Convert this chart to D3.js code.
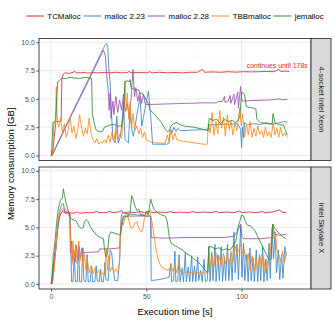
<!DOCTYPE html>
<html>
<head>
<meta charset="utf-8">
<script src="https://cdn.jsdelivr.net/npm/d3@7"></script>
<style>
  body { margin: 0; background: #fff; }
  svg { display: block; font-family: "Liberation Sans", Arial, sans-serif; }
</style>
</head>
<body>
<div id="chart"></div>
<script>
// Data (time in s, memory in GB)

const seriesNames = ["TCMalloc", "malloc 2.23", "malloc 2.28", "TBBmalloc", "jemalloc"];
const seriesColors = ["#E6262B", "#3A85C5", "#9C51AE", "#FF8A1A", "#2F8A2F"];
const panelNames = ["4-socket Intel Xeon", "Intel Skylake X"];
const xTicks = [0, 50, 100];
const yTicks = [0, 2.5, 5, 7.5, 10];
const noteText = "continues until 178s";
const notePos = [118.7, 7.95];

const xeonTCMalloc = [[0,0],[1,0.5],[2.5,2.9],[3,3.0],[5.3,3.0],[5.7,6.8],[6.5,7.2],[7.5,7.3],[9,7.25],[11,7.3],[12.5,7.45],[13.2,7.3],[16,7.3],[18,7.35],[19,7.28],[22,7.32],[25,7.3],[28,7.33],[31,7.3],[34,7.35],[37,7.3],[40,7.32],[41,7.42],[42,7.3],[46,7.33],[50,7.3],[52,7.4],[53,7.3],[57,7.35],[61,7.3],[65,7.33],[69,7.3],[73,7.35],[77,7.35],[79.5,7.6],[80.5,7.35],[85,7.38],[89,7.35],[93,7.4],[97,7.36],[101,7.4],[105,7.38],[109,7.4],[113,7.42],[117,7.4],[119.5,7.6],[120.5,7.42],[123,7.45],[125,7.42]];
const xeonMalloc223 = [[0.5,0],[10,3.4],[20,6.85],[27,9.3],[28.5,9.8],[29,9.9],[29.8,9.6],[30.2,8.0],[31,6.5],[31.8,3.5],[32.5,1.4],[33.6,1.1],[34.5,3.5],[35.3,1.1],[36.2,1.6],[37.1,2.6],[38,4.8],[38.8,1.4],[40.6,1.1],[41.4,3.8],[42.5,2.2],[43.2,1.7],[45,3.5],[46.7,5.2],[47.6,2.6],[49.3,4.1],[51.1,5.7],[52.3,3.5],[53.3,1.0],[60.7,1.0],[62,1.1],[62.5,2.3],[63.5,2.0],[64.5,2.5],[65.5,2.1],[66.5,2.4],[68,2.2],[75,2.25],[82,2.3],[83,2.7],[90,2.75],[98,2.8],[99.5,2.3],[100,0.7],[100.4,2.5],[101,1.6],[101.5,2.9],[103,2.7],[106,2.8],[110,2.75],[113,2.9],[116,2.75],[120,2.9],[122,3.0],[124,2.95]];
const xeonMalloc228 = [[0.5,0],[10,3.3],[20,6.7],[27.5,9.3],[28.5,8.8],[29.5,6.5],[30,5.8],[30.5,4.0],[31,5.5],[31.5,3.3],[32.5,4.8],[33,3.6],[34,5.2],[35,3.8],[36,4.9],[37,4.0],[38,5.4],[39,3.9],[40,4.6],[41,3.5],[42,5.0],[43,7.6],[43.8,5.2],[44.5,6.0],[45.5,4.8],[46.5,5.6],[47.5,4.6],[48.5,5.4],[49.5,4.5],[50.5,4.5],[60,4.55],[70,4.6],[80,4.65],[87,4.65],[87.5,4.75],[90,4.8],[91,5.2],[91.3,4.7],[93,4.8],[94,5.3],[94.3,4.6],[96,5.4],[96.3,4.5],[98,5.6],[98.3,4.2],[99.5,6.1],[100,5.0],[100.5,4.8],[105,4.85],[115,4.9],[120,5.0],[121,4.92],[124,4.95]];
const xeonTBB = [[0.8,0],[1.5,2.8],[2.3,3.2],[2.8,6.1],[3.3,3.0],[4,2.5],[5,3.3],[6,2.0],[7,2.8],[8,1.6],[9,2.2],[10,3.4],[11,2.0],[12,2.6],[13,1.5],[14,2.2],[15,3.6],[16,2.5],[17,1.7],[18,2.4],[19,1.9],[20,3.3],[21,2.0],[22,1.4],[23,1.1],[24,1.5],[25,1.0],[26,1.2],[27,1.1],[28,1.4],[29,1.1],[30,1.8],[31,1.2],[32,2.1],[33,1.3],[34,2.4],[35,1.4],[36,1.9],[37,1.5],[38,3.5],[38.8,6.6],[39.5,4.0],[40,5.5],[40.8,3.2],[41.5,4.6],[42.3,2.5],[43,3.7],[44,2.2],[45,2.6],[46,1.9],[47,2.4],[48,1.6],[49,2.1],[50,1.4],[52,1.2],[56,1.1],[60,1.1],[61,1.8],[62,1.2],[63,2.3],[64,1.4],[65,2.0],[66,1.4],[68,1.3],[72,1.2],[76,1.1],[80,1.0],[82,1.0],[82.5,2.8],[83.5,2.0],[84.5,3.8],[85.5,1.8],[86.5,3.0],[87.5,1.9],[88.5,4.0],[89.5,2.4],[90.5,3.4],[91.5,1.7],[92.5,3.6],[93.5,2.3],[94.5,3.0],[95.5,1.8],[96.5,2.9],[97.5,2.2],[99,4.2],[99.8,2.6],[100.5,3.7],[101.5,1.6],[102.5,2.8],[103.5,1.8],[104.5,3.0],[105.5,1.6],[106.5,2.4],[107.5,1.7],[108.5,2.6],[109.5,1.9],[110.5,2.2],[111.5,1.6],[112.5,2.5],[113.5,1.7],[114.5,2.1],[115.5,1.6],[116.5,2.9],[117.5,1.8],[118.5,2.4],[119.5,1.6],[120.5,2.5],[121.5,1.7],[122.5,2.0],[124,1.6]];
const xeonJemalloc = [[0.3,0],[1,2.9],[2.5,3.0],[3,5.0],[3.5,6.5],[4.5,6.6],[5.5,6.8],[8,6.8],[10,6.9],[12,6.85],[15,6.8],[18,6.9],[20,6.85],[21.3,6.8],[21.7,3.7],[22.5,3.0],[23.5,2.3],[25,2.1],[27,2.1],[28,2.5],[29.5,2.6],[31,2.7],[33,2.75],[35,2.6],[37,2.6],[38,3.5],[38.8,6.5],[40,6.6],[41,6.5],[41.5,6.7],[42,6.0],[44,5.8],[46,5.8],[46.5,5.5],[48,5.5],[49,5.2],[50,4.9],[51,4.6],[52,4.0],[54,3.7],[56,3.3],[58,2.9],[60,2.3],[61,2.1],[62,2.2],[63,2.6],[64,2.8],[66,2.9],[68,2.7],[70,2.6],[75,2.5],[80,2.3],[82.5,2.2],[83,3.3],[85,3.1],[87,3.2],[89,2.8],[91,3.2],[93,3.0],[95,3.1],[97,2.9],[99,3.3],[100,5.6],[101.5,5.4],[102.5,4.3],[106,4.2],[107.5,4.1],[108,3.2],[110,2.9],[114,2.8],[116,2.8],[116.5,3.7],[117.5,2.9],[120,2.7],[122,2.7],[123,2.2],[124,1.8]];

const skylakeTCMalloc = [[0,0],[1,1.0],[2,2.8],[3,4.2],[4,5.6],[5,6.2],[6,6.4],[7,6.3],[9,6.3],[12,6.25],[14,6.35],[15,6.25],[18,6.3],[22,6.3],[24,6.4],[25,6.3],[29,6.3],[31,6.42],[32,6.3],[35,6.35],[37,6.45],[38,6.3],[41,6.35],[44,6.3],[47,6.4],[49,6.3],[52,6.45],[53,6.3],[57,6.35],[60,6.3],[63,6.4],[64,6.3],[68,6.35],[72,6.3],[75,6.4],[76,6.3],[80,6.35],[84,6.3],[87,6.42],[88,6.3],[92,6.35],[96,6.3],[99,6.45],[100,6.3],[104,6.35],[108,6.3],[111,6.4],[112,6.3],[116,6.35],[119,6.5],[120,6.55],[121,6.35],[123.5,6.3]];
const skylakeMalloc223 = [[0.3,0],[1.5,2.0],[2.5,3.0],[3.5,5.0],[4.5,6.4],[5.5,7.0],[6.5,7.1],[7.2,6.3],[8,6.2],[9,6.3],[10,6.2],[10.8,0.2],[11.5,0.2],[12.2,2.5],[12.8,0.2],[13.8,0.2],[14.5,3.7],[15,0.2],[16,0.2],[16.7,3.2],[17.2,0.3],[18.3,0.2],[19,2.6],[19.5,0.2],[20.5,0.2],[21.3,1.6],[21.8,0.2],[23,0.2],[23.7,1.6],[24.2,0.3],[25.3,0.2],[26,1.3],[26.5,0.2],[27.5,0.2],[28.3,1.9],[28.8,0.4],[30,0.3],[31,3.0],[31.8,2.8],[32.5,1.5],[33.5,0.3],[35,0.3],[36,2.2],[36.8,5.9],[37.5,6.3],[40,6.2],[45,6.1],[50,6.0],[52.2,6.0],[52.6,0.3],[55,0.35],[60,0.5],[62,0.6],[62.8,1.8],[63.3,0.2],[64.3,0.3],[65,2.9],[65.5,0.2],[66.5,0.3],[67.2,2.6],[67.7,0.2],[68.8,1.4],[69.5,0.2],[70.5,2.8],[71,0.2],[72,1.5],[72.8,0.2],[73.8,2.5],[74.3,0.2],[75.3,1.6],[76,0.2],[77,2.4],[77.5,0.3],[78.5,1.2],[79.3,0.2],[80.3,2.2],[81,0.2],[82,0.3],[82.8,3.3],[83.4,0.2],[84.3,2.8],[85,0.3],[86,3.5],[86.6,0.2],[87.6,2.6],[88.3,0.3],[89.3,3.3],[90,0.2],[91,2.4],[91.6,0.3],[92.6,3.5],[93.3,0.3],[94.3,2.7],[95,0.3],[96,4.6],[96.6,1.0],[97.6,3.5],[98.3,0.4],[99.5,5.1],[100.2,0.6],[101,3.6],[101.7,0.3],[102.7,2.6],[103.4,0.2],[104.4,3.2],[105,0.3],[106,2.3],[106.7,0.2],[107.7,3.0],[108.4,0.2],[109.4,2.5],[110,0.3],[111,3.3],[111.7,0.2],[112.7,2.2],[113.4,0.3],[114.4,3.6],[115,0.5],[116,4.9],[116.7,2.2],[117.5,4.4],[118.3,1.0],[119.3,3.0],[120,0.4],[121,2.6],[121.7,0.5],[122.7,3.3],[123.5,2.5]];
const skylakeMalloc228 = [[0.5,0],[1.5,1.5],[2.5,3.0],[3.5,4.8],[4.5,6.0],[5.5,6.3],[6.5,6.6],[7.5,6.4],[9,6.3],[9.8,6.0],[10.2,2.7],[10.8,3.8],[11.3,2.0],[12,3.0],[12.6,1.9],[13.3,3.4],[14,2.1],[14.8,3.3],[15.5,2.3],[16.2,3.2],[17,2.8],[20,2.8],[25,2.85],[25.5,3.1],[30,3.1],[34,3.15],[36,3.2],[36.5,5.0],[37.5,5.9],[38,6.0],[45,6.0],[52.3,6.0],[52.6,4.1],[60,4.05],[70,4.1],[80,4.1],[90,4.1],[96,4.2],[98,4.7],[99.5,5.3],[100.2,4.2],[101,4.0],[110,4.0],[116,4.1],[116.5,5.0],[117.5,4.4],[120,4.3],[123.5,4.4]];
const skylakeTBB = [[0.8,0],[1.5,1.0],[2.5,3.0],[3.5,5.5],[4.5,6.3],[5.5,6.6],[7,6.8],[8,6.5],[9,6.4],[10,5.6],[10.5,3.0],[11,1.7],[11.5,3.8],[12.2,2.3],[13,3.5],[13.7,1.8],[14.5,3.8],[15.2,2.0],[16,3.0],[16.8,1.4],[17.6,2.7],[18.3,1.2],[19,2.3],[20,1.0],[21,1.6],[22,0.9],[23,1.4],[24,0.9],[25,1.2],[26,0.8],[27,1.0],[28,0.8],[29,3.2],[29.6,1.2],[30.3,2.5],[31,1.1],[32,1.5],[33,1.0],[34,1.3],[35,1.0],[36,2.0],[36.5,4.5],[37,5.8],[38,5.2],[39,6.0],[40,6.3],[41,5.5],[42,4.9],[43,5.0],[44,5.4],[45,5.5],[46,5.0],[47,4.6],[48,4.7],[49,5.8],[50,6.2],[51,6.4],[52,6.3],[53,5.5],[54,4.3],[55,3.2],[56,2.3],[57,1.8],[58,1.5],[60,1.3],[62,1.2],[63,1.8],[64,1.1],[65,1.6],[66,1.0],[67,2.0],[68,1.1],[70,1.05],[75,1.0],[80,1.0],[82,0.95],[82.8,2.8],[83.5,1.6],[84.5,2.5],[85.5,1.5],[86.5,2.8],[87.5,1.7],[88.5,2.4],[89.5,1.5],[90.5,2.7],[91.5,1.8],[92.5,2.4],[93.5,1.6],[94.5,2.9],[95.5,2.0],[96.5,3.4],[97.5,2.6],[98.5,3.0],[99.5,3.5],[100.5,2.7],[101.5,3.0],[102.5,1.8],[103.5,2.7],[104.5,1.2],[105.5,2.5],[106.5,1.1],[107.5,2.2],[108.5,1.3],[109.5,2.6],[110.5,1.5],[111.5,2.4],[112.5,1.0],[113.5,2.0],[114.5,1.6],[115.5,3.8],[116.3,5.3],[117,4.0],[117.8,4.6],[118.5,3.0],[119.5,2.6],[120.5,2.0],[121.5,2.9],[122.5,1.9],[123.5,2.8]];
const skylakeJemalloc = [[0.3,0],[1.2,2.5],[2,3.6],[3,5.5],[4,6.8],[5,7.4],[6,7.6],[6.5,8.4],[7,7.9],[8,7.1],[9,6.5],[10,5.9],[11,5.7],[13,5.6],[14,5.3],[15,5.0],[16,4.9],[17,5.0],[17.5,5.5],[18.5,5.7],[19.5,5.5],[20.5,5.1],[22,4.7],[24,4.3],[26,4.1],[27.5,4.0],[28.2,2.9],[28.8,2.4],[29.5,2.6],[30.5,4.3],[31.5,4.6],[33,4.5],[35,4.4],[36.5,4.3],[37.5,5.5],[38.5,6.0],[40,5.9],[41.5,6.3],[42.3,7.8],[43,7.5],[44,6.9],[45,6.5],[46,6.6],[47,6.1],[48,6.2],[49,6.0],[50,6.4],[51,6.1],[52.3,7.5],[53,7.1],[54,6.6],[56,6.3],[58,6.1],[60,6.0],[61,5.5],[62,4.2],[63,3.6],[65,3.4],[67,3.2],[69,3.0],[71,2.7],[73,2.5],[75,2.2],[77,2.0],[79,1.6],[81,1.2],[82.3,1.0],[82.8,3.3],[84,3.3],[86,3.1],[88,3.2],[90,3.0],[92,3.1],[94,3.0],[96,3.5],[97,3.8],[98,4.9],[99,5.5],[100,6.1],[101,6.0],[102,5.5],[103,5.2],[105,5.1],[107,4.7],[109,4.0],[111,3.3],[113,2.6],[114.5,2.1],[115.5,2.2],[116.3,5.3],[117,5.0],[118,4.8],[119,4.6],[120,4.4],[121,4.3],[122,4.1],[123.5,4.0]];

const panelSeries = [
  [xeonTCMalloc, xeonMalloc223, xeonMalloc228, xeonTBB, xeonJemalloc],
  [skylakeTCMalloc, skylakeMalloc223, skylakeMalloc228, skylakeTBB, skylakeJemalloc],
];

// Layout

const width = 335;
const height = 325;
const panelLeft = 39;
const panelRight = 311;
const stripWidth = 20;
const panelTops = [38.5, 167];
const panelHeight = 122;
const gridMajor = "#EBEBEB";
const gridMinor = "#F3F3F3";
const dark = "#333333";

const svg = d3
  .select("#chart")
  .append("svg")
  .attr("width", width)
  .attr("height", height);

const xScale = d3.scaleLinear().domain([-6.3, 136.4]).range([panelLeft, panelRight]);
const yScale = d3.scaleLinear().domain([-0.44, 10.33]).range([panelHeight, 0]);

const line = d3
  .line()
  .x((d) => xScale(d[0]))
  .y((d) => yScale(d[1]));

svg.append("defs")
  .append("clipPath")
  .attr("id", "panel-clip")
  .append("rect")
  .attr("x", panelLeft)
  .attr("y", 0)
  .attr("width", panelRight - panelLeft)
  .attr("height", panelHeight);

const xMinor = [25, 75, 125];
const yMinor = [1.25, 3.75, 6.25, 8.75];

panelTops.forEach(function (top, p) {
  const g = svg.append("g").attr("transform", `translate(0, ${top})`);

  g.append("rect")
    .attr("x", panelLeft)
    .attr("width", panelRight - panelLeft)
    .attr("height", panelHeight)
    .attr("fill", "#fff");

  // Grid
  g.selectAll(".xminor").data(xMinor).enter().append("line")
    .attr("x1", (d) => xScale(d)).attr("x2", (d) => xScale(d))
    .attr("y1", 0).attr("y2", panelHeight)
    .attr("stroke", gridMinor).attr("stroke-width", 0.5);
  g.selectAll(".yminor").data(yMinor).enter().append("line")
    .attr("x1", panelLeft).attr("x2", panelRight)
    .attr("y1", (d) => yScale(d)).attr("y2", (d) => yScale(d))
    .attr("stroke", gridMinor).attr("stroke-width", 0.5);
  g.selectAll(".xmajor").data(xTicks).enter().append("line")
    .attr("x1", (d) => xScale(d)).attr("x2", (d) => xScale(d))
    .attr("y1", 0).attr("y2", panelHeight)
    .attr("stroke", gridMajor).attr("stroke-width", 1);
  g.selectAll(".ymajor").data(yTicks).enter().append("line")
    .attr("x1", panelLeft).attr("x2", panelRight)
    .attr("y1", (d) => yScale(d)).attr("y2", (d) => yScale(d))
    .attr("stroke", gridMajor).attr("stroke-width", 1);

  // Lines
  g.append("g")
    .attr("clip-path", "url(#panel-clip)")
    .selectAll("path")
    .data(panelSeries[p])
    .enter()
    .append("path")
    .attr("d", line)
    .attr("fill", "none")
    .attr("stroke", (d, i) => seriesColors[i])
    .attr("stroke-width", 0.85)
    .attr("stroke-linejoin", "round");

  if (p === 0) {
    g.append("text")
      .attr("x", xScale(notePos[0]))
      .attr("y", yScale(notePos[1]))
      .attr("text-anchor", "middle")
      .attr("dominant-baseline", "central")
      .attr("font-size", "6.9px")
      .attr("fill", seriesColors[0])
      .text(noteText);
  }

  // Border
  g.append("rect")
    .attr("x", panelLeft)
    .attr("width", panelRight - panelLeft)
    .attr("height", panelHeight)
    .attr("fill", "none")
    .attr("stroke", dark)
    .attr("stroke-width", 0.9);

  // Strip
  g.append("rect")
    .attr("x", panelRight)
    .attr("width", stripWidth)
    .attr("height", panelHeight)
    .attr("fill", "#D9D9D9")
    .attr("stroke", dark)
    .attr("stroke-width", 0.9);
  g.append("text")
    .attr("transform", `translate(${panelRight + stripWidth / 2}, ${panelHeight / 2}) rotate(90)`)
    .attr("text-anchor", "middle")
    .attr("dominant-baseline", "central")
    .attr("font-size", "7.7px")
    .attr("fill", "#1A1A1A")
    .text(panelNames[p]);

  // Y axis
  const yAxis = g.append("g")
    .attr("transform", `translate(${panelLeft}, 0)`)
    .call(d3.axisLeft(yScale).tickValues(yTicks).tickFormat(d3.format(".1f")).tickSize(2.7).tickPadding(1.5));
  yAxis.select(".domain").remove();
  yAxis.selectAll("line").attr("stroke", dark).attr("stroke-width", 0.8);
  yAxis.selectAll("text").attr("font-size", "7px").attr("fill", "#4D4D4D").attr("font-family", null);

  if (p === panelTops.length - 1) {
    const xAxis = g.append("g")
      .attr("transform", `translate(0, ${panelHeight})`)
      .call(d3.axisBottom(xScale).tickValues(xTicks).tickSize(2.7).tickPadding(2));
    xAxis.select(".domain").remove();
    xAxis.selectAll("line").attr("stroke", dark).attr("stroke-width", 0.8);
    xAxis.selectAll("text").attr("font-size", "7px").attr("fill", "#4D4D4D").attr("font-family", null);
  }
});

// Axis titles

svg.append("text")
  .attr("x", (panelLeft + panelRight) / 2)
  .attr("y", 315)
  .attr("text-anchor", "middle")
  .attr("font-size", "9.5px")
  .attr("fill", "#000")
  .text("Execution time [s]");

svg.append("text")
  .attr("transform", `translate(14, ${(panelTops[0] + panelTops[1] + panelHeight) / 2}) rotate(-90)`)
  .attr("text-anchor", "middle")
  .attr("font-size", "9.5px")
  .attr("fill", "#000")
  .text("Memory consumption [GB]");

// Legend

const legend = svg.append("g").attr("transform", "translate(0, 16)");
const keyWidth = 17.7;
let cursor = 0;
const items = seriesNames.map(function (name, i) {
  const item = legend.append("g");
  item.append("line")
    .attr("x1", 0).attr("x2", keyWidth)
    .attr("stroke", seriesColors[i])
    .attr("stroke-width", 1);
  const label = item.append("text")
    .attr("x", keyWidth + 3.3)
    .attr("dominant-baseline", "central")
    .attr("font-size", "7.9px")
    .attr("fill", "#000")
    .text(name);
  const w = keyWidth + 3.3 + label.node().getComputedTextLength();
  item.attr("transform", `translate(${cursor}, 0)`);
  cursor += w + 2.8;
  return item;
});
const legendWidth = cursor - 2.8;
legend.attr("transform", `translate(${(panelLeft + panelRight) / 2 - legendWidth / 2}, 16)`);
</script>
</body>
</html>
